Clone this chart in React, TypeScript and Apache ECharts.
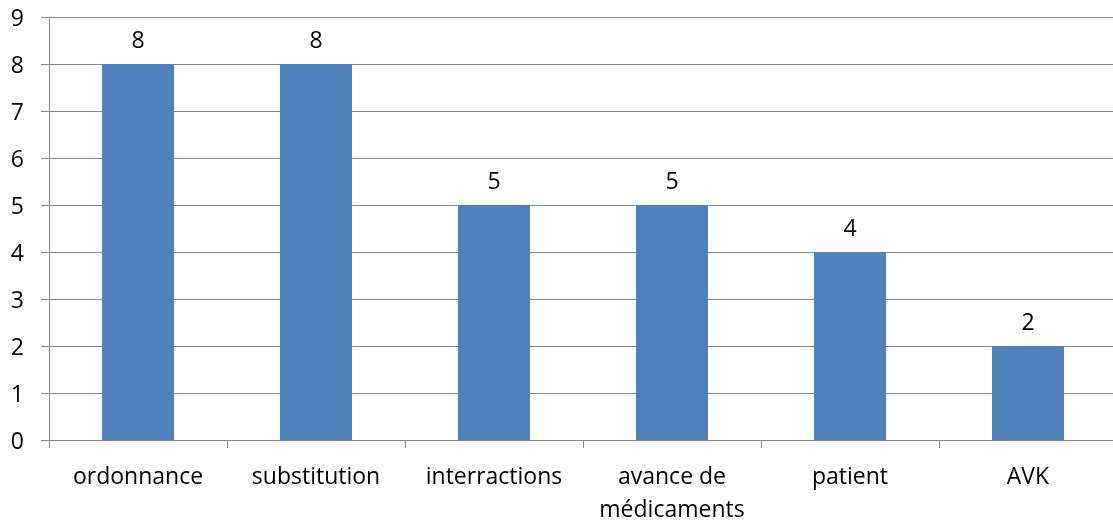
import React, { useEffect, useRef } from "react";
import * as echarts from "echarts";

const categories = ["ordonnance", "substitution", "interractions", "avance de\nmédicaments", "patient", "AVK"];
const values = [8, 8, 5, 5, 4, 2];
const yMin = 0;
const yMax = 9;
const yInterval = 1;

export default function App() {
  const ref = useRef<HTMLDivElement>(null);
  useEffect(() => {
    if (!ref.current) return;
    const chart = echarts.init(ref.current, undefined, { renderer: "svg" });
    const font = "Open Sans, Noto Sans, sans-serif";
    chart.setOption({
      animation: false,
      grid: { left: 49, top: 17, width: 1068, height: 426, containLabel: false },
      xAxis: {
        type: "category",
        data: categories,
        axisLine: { show: true, lineStyle: { color: "#868686", width: 1 } },
        axisTick: { show: true, length: 8, lineStyle: { color: "#868686" } },
        axisLabel: { color: "#000", fontSize: 23, fontFamily: font, margin: 18, lineHeight: 33, interval: 0 },
      },
      yAxis: {
        type: "value",
        min: yMin,
        max: yMax,
        interval: yInterval,
        axisLine: { show: true, lineStyle: { color: "#868686", width: 1 } },
        axisTick: { show: true, length: 8, lineStyle: { color: "#868686" } },
        splitLine: { show: true, lineStyle: { color: "#868686", width: 1 } },
        axisLabel: { color: "#000", fontSize: 23, fontFamily: font, margin: 25 },
      },
      series: [
        {
          type: "bar",
          data: values,
          barWidth: 72,
          itemStyle: { color: "#4F81BD" },
          label: { show: true, position: "top", distance: 14, color: "#000", fontSize: 23, fontFamily: font },
        },
      ],
    });
    return () => chart.dispose();
  }, []);
  return (
    <div style={{ position: "fixed", left: 0, top: 0, width: 1113, height: 524, overflow: "hidden" }}>
      <div ref={ref} style={{ width: 1125, height: 524 }} />
    </div>
  );
}
